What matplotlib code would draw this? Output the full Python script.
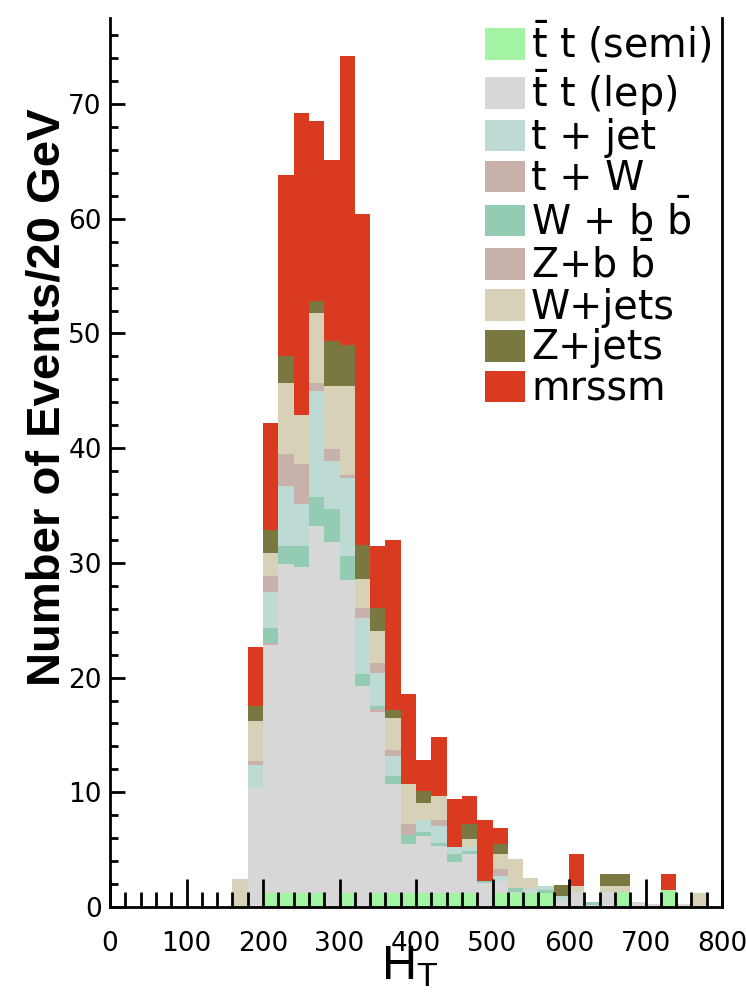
import numpy as np
import matplotlib
matplotlib.use("Agg")
from matplotlib import pyplot as plt
from matplotlib.ticker import MultipleLocator

# H_T histogram, 20 GeV bins from 160 to 800 (lower edges)
bin_lo = np.arange(160, 800, 20)

# events per bin
tt_semi = [0, 0, 1.2, 1.2, 1.2, 1.2, 0, 1.2, 0, 1.2, 1.2, 1.2, 1.2, 1.2, 1.2, 1.2,
           0, 1.2, 1.2, 1.2, 1.2, 0, 0, 0, 0, 1.3, 0, 0, 1.5, 0, 0, 0]
tt_lep = [0, 10.4, 21.6, 28.7, 28.4, 32.0, 31.8, 27.3, 19.3, 15.8, 9.5, 4.3, 5.0, 4.1, 2.7, 3.4,
          2.1, 1.1, 0.1, 0.2, 0, 0.5, 1.3, 0.2, 1.3, 0, 0.4, 0.3, 0, 0.3, 0, 0]
t_w = [0, 0, 0.2, 0, 0, 0, 0, 0, 0, 0.3, 0, 0, 0, 0, 0, 0,
       0, 0, 0, 0, 0, 0, 0, 0, 0, 0, 0, 0, 0, 0, 0, 0]
w_bb = [0, 0, 1.3, 1.6, 1.9, 2.5, 2.9, 2.1, 1.0, 0.2, 0.7, 0.8, 0.3, 0.3, 0.7, 0.3,
        0.2, 0, 0.4, 0, 0.3, 0, 0, 0.2, 0, 0, 0, 0, 0, 0, 0, 0]
t_jet = [0, 2.0, 3.2, 5.2, 3.6, 9.3, 4.2, 6.8, 4.9, 2.9, 1.8, 0, 1.1, 1.5, 0.6, 0.3,
         0, 0.4, 0, 0.2, 0.3, 0.5, 0, 0, 0, 0, 0, 0, 0, 0, 0, 0]
z_bb = [0, 0.3, 1.4, 2.8, 3.5, 0.7, 1.0, 0.3, 0.9, 0.9, 0.5, 0.9, 0, 0.5, 0, 0,
        0, 0.6, 0, 0, 0, 0, 0, 0, 0, 0, 0, 0, 0, 0, 0, 0]
w_jets = [2.4, 3.5, 2.0, 6.2, 4.3, 6.1, 5.5, 7.7, 2.5, 2.8, 2.8, 3.5, 1.5, 2.1, 0, 0.7,
          0, 1.3, 2.5, 0.9, 0, 0, 0.5, 0, 0.5, 0.5, 0, 0, 0, 0, 1.2, 0]
z_jets = [0, 1.3, 2.0, 2.3, 0, 1.0, 3.9, 3.6, 3.0, 2.0, 0.7, 0, 1.0, 0, 0, 1.3,
          0, 0.9, 0, 0, 0, 0.9, 0, 0, 1.05, 1.05, 0, 0, 0, 0, 0, 0]
mrssm = [0, 5.2, 9.3, 15.8, 26.3, 15.7, 15.8, 25.2, 28.8, 5.4, 14.8, 7.9, 2.7, 5.1, 4.2, 2.5,
         5.3, 1.4, 0, 0, 0, 0, 2.8, 0, 0, 0, 0, 0, 1.35, 0, 0, 0]

hists = {"tt_semi": tt_semi, "tt_lep": tt_lep, "t_w": t_w, "w_bb": w_bb, "t_jet": t_jet,
         "z_bb": z_bb, "w_jets": w_jets, "z_jets": z_jets, "mrssm": mrssm}

labels = {
    "tt_semi": r"$\mathregular{\bar{t}}$ t (semi)",
    "tt_lep": r"$\mathregular{\bar{t}}$ t (lep)",
    "t_jet": "t + jet",
    "t_w": "t + W",
    "w_bb": r"W + b $\mathregular{\bar{b}}$",
    "z_bb": r"Z+b $\mathregular{\bar{b}}$",
    "w_jets": "W+jets",
    "z_jets": "Z+jets",
    "mrssm": "mrssm",
}
colors = {
    "tt_semi": "#a2f4a2",
    "tt_lep": "#d7d7d7",
    "t_jet": "#bddad4",
    "t_w": "#c9b1ab",
    "w_bb": "#94cbb3",
    "z_bb": "#c9b1ab",
    "w_jets": "#d7d1b8",
    "z_jets": "#7a7841",
    "mrssm": "#d93a20",
}
stack_order = ["tt_semi", "tt_lep", "t_w", "w_bb", "t_jet", "z_bb", "w_jets", "z_jets", "mrssm"]
legend_order = ["tt_semi", "tt_lep", "t_jet", "t_w", "w_bb", "z_bb", "w_jets", "z_jets", "mrssm"]

fig = plt.figure(figsize=(7.46, 9.94), dpi=100)
ax = fig.add_axes([0.1475, 0.0875, 0.8204, 0.8944])

# stacked histogram
bottom = np.zeros(len(bin_lo))
handles = {}
for name in stack_order:
    vals = np.array(hists[name], dtype=float)
    handles[name] = ax.bar(bin_lo, vals, width=20, bottom=bottom, align="edge",
                           color=colors[name], linewidth=0)
    bottom += vals

ax.set_xlim(0, 800)
ax.set_ylim(0, 77.5)
ax.xaxis.set_major_locator(MultipleLocator(100))
ax.xaxis.set_minor_locator(MultipleLocator(20))
ax.yaxis.set_major_locator(MultipleLocator(10))
ax.yaxis.set_minor_locator(MultipleLocator(2))
ax.tick_params(axis="both", which="both", direction="in", width=2, color="black",
               top=False, right=False)
ax.tick_params(axis="x", which="major", length=20, pad=17, labelsize=19)
ax.tick_params(axis="x", which="minor", length=11)
ax.tick_params(axis="y", which="major", length=11, pad=6, labelsize=19)
ax.tick_params(axis="y", which="minor", length=5.5)
for s in ["left", "bottom", "right"]:
    ax.spines[s].set_linewidth(2)
ax.spines["top"].set_visible(False)

ax.set_ylabel("Number of Events/20 GeV", fontsize=34, fontweight="bold",
              family="Liberation Sans")
ax.yaxis.set_label_coords(-0.066, 0.574)
ax.set_xlabel(r"$\mathregular{H_T}$", fontsize=35, family="Liberation Sans")
ax.xaxis.set_label_coords(0.49, -0.042)

ax.legend([handles[n] for n in legend_order], [labels[n] for n in legend_order],
          loc="upper left", bbox_to_anchor=(0.612, 0.997), frameon=False,
          prop={"family": "DejaVu Sans", "size": 28.5},
          handlelength=1.02, handleheight=0.85, handletextpad=0.15,
          labelspacing=0.02, borderaxespad=0, borderpad=0)

fig.savefig("out.png", dpi=100)
